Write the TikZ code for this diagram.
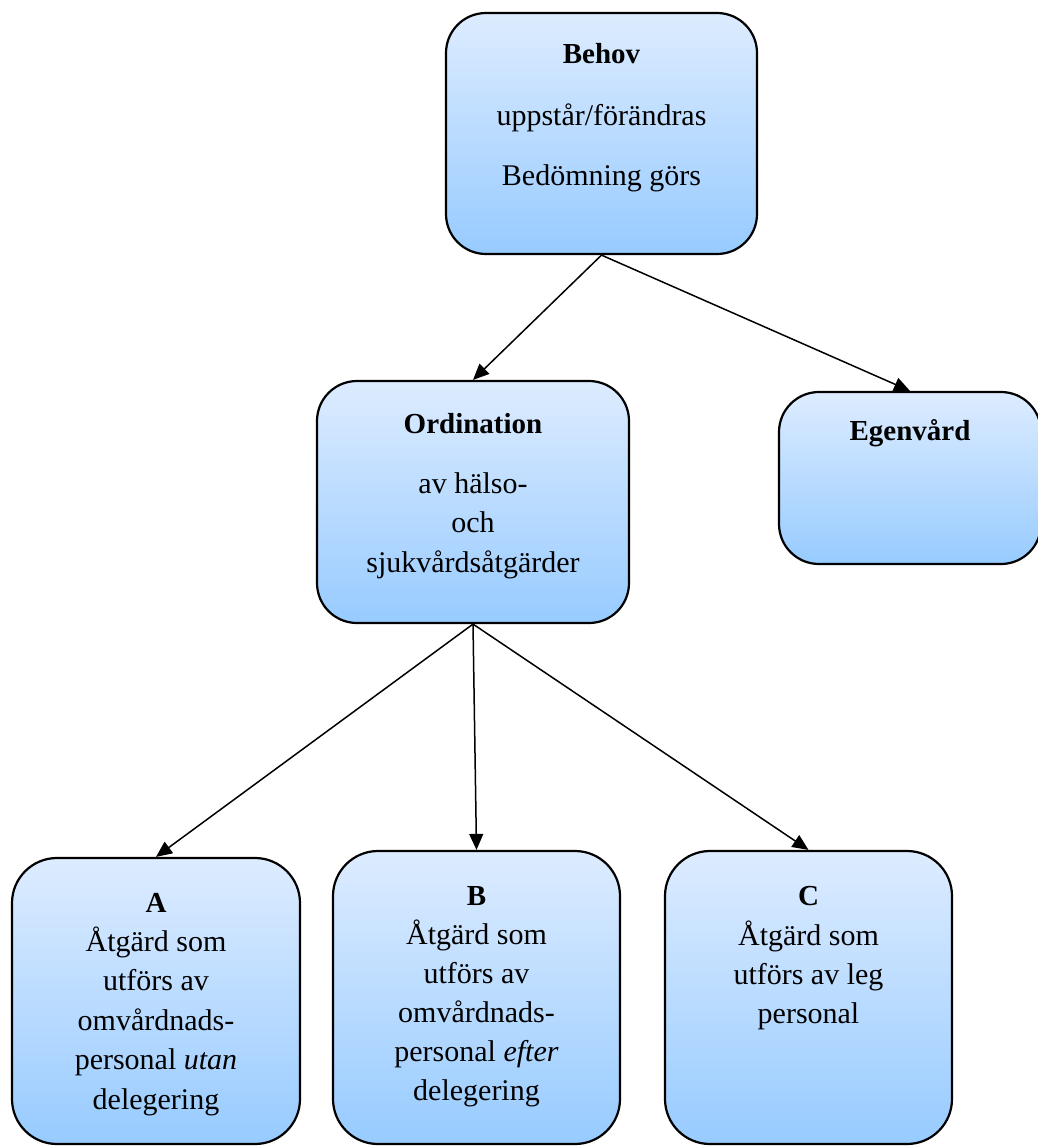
\documentclass[tikz,border=0pt]{standalone}
\usepackage{fontspec}
\setmainfont{Liberation Serif}
\usetikzlibrary{arrows.meta}
\definecolor{boxtop}{RGB}{221,236,255}
\definecolor{boxbot}{RGB}{151,203,255}
\begin{document}
\begin{tikzpicture}[x=1pt,y=-1pt,
  box/.style={draw=black, line width=2.2pt, rounded corners=40pt, top color=boxtop, bottom color=boxbot, inner sep=0pt},
  ttl/.style={font=\fontsize{29}{34}\selectfont\bfseries, anchor=base, inner sep=0pt},
  body/.style={font=\fontsize{30}{39.5}\selectfont, anchor=base, align=center, inner sep=0pt},
  arr/.style={line width=1.5pt, -{Triangle[length=16pt,width=14pt]}}]
\useasboundingbox (0,0) rectangle (1037,1146);
% boxes
\node[box, minimum width=311pt, minimum height=241pt] (behov) at (601.5,133.5) {};
\node[box, minimum width=312pt, minimum height=242pt] (ord) at (473,502) {};
\node[box, minimum width=262pt, minimum height=172pt] (egen) at (910,478) {};
\node[box, rounded corners=45pt, minimum width=288pt, minimum height=286pt] (a) at (156,1001) {};
\node[box, rounded corners=45pt, minimum width=287pt, minimum height=293pt] (b) at (476.5,997.5) {};
\node[box, rounded corners=45pt, minimum width=287pt, minimum height=293pt] (c) at (808.5,997.5) {};
% texts (multi-line nodes: base anchor = baseline of last line)
\node[ttl] (behovt) at (601.5,63) {Behov};
\node[body, font=\fontsize{30}{60}\selectfont] (behovb) at (601.5,185) {uppstår/förändras\\Bedömning görs};
\node[ttl] (ordt) at (473,433) {Ordination};
\node[body] (ordb) at (473,572) {av hälso-\\och\\sjukvårdsåtgärder};
\node[ttl] (egent) at (910,440) {Egenvård};
\node[ttl] (at) at (156,912) {A};
\node[body] (ab) at (156,1109) {Åtgärd som\\utförs av\\omvårdnads-\\personal \textit{utan}\\delegering};
\node[ttl] (bt) at (476.5,905) {B};
\node[body, font=\fontsize{30}{39}\selectfont] (bb) at (476.5,1100) {Åtgärd som\\utförs av\\omvårdnads-\\personal \textit{efter}\\delegering};
\node[ttl] (ct) at (808.5,905) {C};
\node[body, font=\fontsize{30}{39}\selectfont] (cb) at (808.5,1023) {Åtgärd som\\utförs av leg\\personal};
% connectors
\draw[arr] (behov.south) -- (ord.north);
\draw[arr] (behov.south) -- (egen.north);
\draw[arr] (ord.south) -- (a.north);
\draw[arr] (ord.south) -- (b.north);
\draw[arr] (ord.south) -- (c.north);
\end{tikzpicture}
\end{document}
